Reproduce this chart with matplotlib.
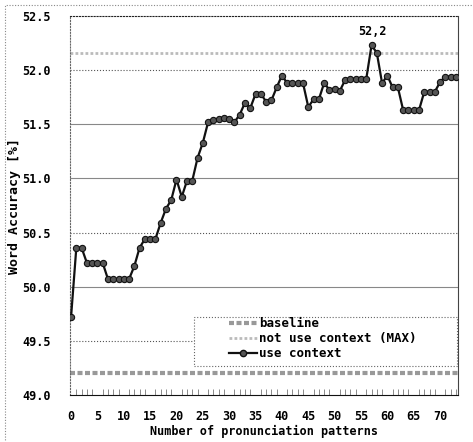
import matplotlib
matplotlib.use("Agg")
import matplotlib.pyplot as plt
from matplotlib.patches import Rectangle
from matplotlib.lines import Line2D

plt.rcParams["font.family"] = "DejaVu Sans Mono"
plt.rcParams["font.weight"] = "bold"
plt.rcParams["axes.labelweight"] = "bold"

# Word accuracy [%] for 0..73 pronunciation patterns
n_patterns = list(range(74))
use_context = [
    49.72, 50.36, 50.36, 50.22, 50.22, 50.22, 50.22, 50.07, 50.07, 50.07,
    50.07, 50.07, 50.19, 50.36, 50.44, 50.44, 50.44, 50.59, 50.72, 50.80,
    50.99, 50.83, 50.98, 50.98, 51.19, 51.33, 51.52, 51.54, 51.55, 51.56,
    51.55, 51.52, 51.59, 51.70, 51.65, 51.78, 51.78, 51.71, 51.72, 51.84,
    51.95, 51.88, 51.88, 51.88, 51.88, 51.66, 51.73, 51.73, 51.88, 51.82,
    51.83, 51.81, 51.91, 51.92, 51.92, 51.92, 51.92, 52.23, 52.16, 51.88,
    51.95, 51.84, 51.84, 51.63, 51.63, 51.63, 51.63, 51.80, 51.80, 51.80,
    51.89, 51.94, 51.94, 51.94,
]
baseline = 49.20
no_context_max = 52.16

y_ticks = [49.0, 49.5, 50.0, 50.5, 51.0, 51.5, 52.0, 52.5]
x_ticks = list(range(0, 71, 5))
labels = ["baseline", "not use context (MAX)", "use context"]

fig = plt.figure(figsize=(4.73, 4.42), dpi=100)
ax = fig.add_axes([70 / 473, 1 - 395 / 442, 388 / 473, 379 / 442])

# outer chart frame (dotted)
fig.patches.append(Rectangle((5 / 473, -0.05), 1.2, 1 - 5 / 442 + 0.05,
                             transform=fig.transFigure, fill=False,
                             ec="#888", lw=0.8, ls=(0, (1, 1.5))))

# horizontal gridlines
grid_styles = {49.5: ":", 50.0: "-", 50.5: ":", 51.0: "-", 51.5: "-", 52.0: ":"}
for yv, ls in grid_styles.items():
    ax.axhline(yv, color="#555" if ls == ":" else "#888", lw=0.8, ls=ls, zorder=1)

# reference lines
ax.axhline(baseline, color="#999", lw=3, ls=(0, (1.2, 0.6)), zorder=2)
ax.axhline(no_context_max, color="#bbb", lw=2, ls=(0, (1, 0.8)), zorder=2)

ax.plot(n_patterns, use_context, color="#111", lw=1.6, marker="o",
        markersize=4.5, markerfacecolor="#555", markeredgecolor="#111",
        markeredgewidth=0.8, zorder=3)

# peak annotation
peak_i = max(n_patterns, key=lambda i: use_context[i])
peak_v = use_context[peak_i]
ax.annotate(f"{peak_v:.1f}".replace(".", ","), (peak_i, peak_v),
            xytext=(1, 5), textcoords="offset points", ha="center",
            va="bottom", fontsize=8.5)

ax.set_xlim(-0.2, 73.4)
ax.set_ylim(49.0, 52.5)
ax.set_yticks(y_ticks)
ax.set_yticklabels([f"{v:.1f}" for v in y_ticks])
ax.set_xticks(x_ticks)
ax.set_xticks(range(0, 74), minor=True)
ax.tick_params(axis="y", length=0, pad=14, labelsize=8.5)
ax.tick_params(axis="x", which="major", length=0, pad=11, labelsize=8.5)
ax.tick_params(axis="x", which="minor", direction="in", length=4,
               width=0.6, color="#777")

ax.spines["left"].set_linestyle(":")
ax.spines["left"].set_color("#666")
ax.spines["top"].set_linestyle(":")
ax.spines["top"].set_color("#222")
ax.spines["right"].set_color("#444")
ax.spines["bottom"].set_color("#111")

ax.set_xlabel("Number of pronunciation patterns", fontsize=8.5, labelpad=1)
ax.set_ylabel("Word Accuracy [%]", fontsize=9.5, labelpad=1)

# legend with dotted box
ax.add_patch(Rectangle((0.32, 0.0765), 0.677, 0.13, transform=ax.transAxes,
                       fill=True, fc="white", ec="#666", lw=0.8, ls=":",
                       zorder=4))
handles = [
    Line2D([], [], color="#999", lw=3, ls=(0, (1.2, 0.6))),
    Line2D([], [], color="#bbb", lw=2, ls=(0, (1, 0.8))),
    Line2D([], [], color="#111", lw=1.6, marker="o", markersize=4.5,
           markerfacecolor="#555", markeredgecolor="#111"),
]
leg = ax.legend(handles, labels, loc="upper left",
                bbox_to_anchor=(0.41, 0.205), frameon=False, fontsize=9,
                handlelength=2.2, handletextpad=0.2, labelspacing=0.15,
                borderpad=0, borderaxespad=0)
leg.set_zorder(5)

fig.savefig("out.png", dpi=100)
